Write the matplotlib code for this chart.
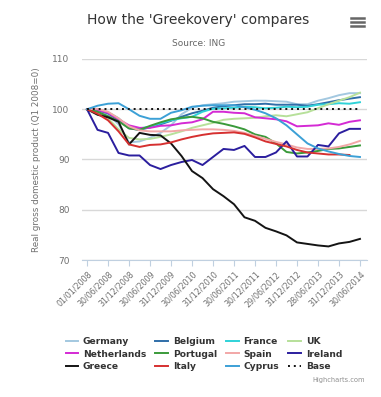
import numpy as np
import matplotlib
matplotlib.use("Agg")
import matplotlib.pyplot as plt
from matplotlib.lines import Line2D

plt.rcParams['font.family'] = ['DejaVu Sans']

tick_labels = ['01/01/2008', '30/06/2008', '31/12/2008', '30/06/2009', '31/12/2009',
               '30/06/2010', '31/12/2010', '30/06/2011', '30/12/2011', '29/06/2012',
               '31/12/2012', '28/06/2013', '31/12/2013', '30/06/2014']

germany = [100, 99.6, 98.9, 97.0, 93.4, 93.6, 94.3, 95.3, 96.8, 99.0, 100.3, 100.8, 101.0, 101.2,
           101.5, 101.6, 101.7, 101.7, 101.6, 101.5, 101.0, 101.0, 101.7, 102.2, 102.8, 103.2, 103.2]
belgium = [100, 99.8, 99.2, 97.8, 96.2, 95.9, 96.4, 97.0, 97.7, 98.5, 99.2, 99.7, 100.3, 100.6,
           100.8, 101.0, 101.0, 101.1, 100.9, 100.9, 100.9, 100.7, 101.0, 101.4, 101.8, 102.1, 102.4]
france = [100, 100.0, 99.4, 98.2, 96.3, 96.2, 96.5, 97.2, 97.8, 98.2, 98.5, 99.5, 100.1, 100.2,
          100.3, 100.5, 100.4, 100.2, 100.3, 100.5, 100.4, 100.5, 100.9, 101.0, 101.2, 101.1, 101.4]
uk = [100, 99.5, 98.2, 96.0, 94.3, 94.0, 94.1, 94.5, 95.0, 95.6, 96.3, 96.8, 97.3, 97.9,
      98.1, 98.2, 98.3, 98.6, 98.8, 98.6, 99.0, 99.4, 100.2, 101.0, 101.7, 102.4, 103.3]
netherlands = [100, 99.9, 99.3, 98.0, 96.8, 96.3, 96.3, 96.7, 96.8, 97.2, 97.4, 98.0, 99.5, 99.5,
               99.3, 99.2, 98.4, 98.2, 98.0, 97.6, 96.6, 96.7, 96.8, 97.2, 96.9, 97.5, 97.8]
portugal = [100, 99.5, 98.6, 97.6, 96.2, 95.9, 96.7, 97.4, 98.0, 98.3, 98.5, 98.2, 97.5, 97.1,
            96.6, 96.0, 95.0, 94.5, 93.2, 91.5, 91.2, 91.4, 91.7, 92.1, 92.2, 92.5, 92.8]
spain = [100, 100.1, 99.5, 98.2, 96.6, 95.8, 95.6, 95.6, 95.6, 95.8, 95.9, 96.0, 96.0, 95.9,
         95.7, 95.3, 94.7, 94.1, 93.5, 93.0, 92.4, 92.1, 92.1, 92.2, 92.5, 93.0, 93.7]
ireland = [100, 95.9, 95.3, 91.3, 90.8, 90.8, 88.9, 88.1, 88.9, 89.5, 89.9, 88.9, 90.5, 92.1,
           91.9, 92.7, 90.5, 90.5, 91.4, 93.6, 90.6, 90.6, 92.9, 92.6, 95.2, 96.1, 96.1]
greece = [100, 98.9, 98.4, 97.5, 93.0, 95.3, 94.9, 94.8, 93.2, 90.7, 87.7, 86.3, 84.1, 82.7,
          81.1, 78.5, 77.8, 76.4, 75.7, 74.9, 73.5, 73.2, 72.9, 72.7, 73.3, 73.6, 74.2]
italy = [100, 99.1, 97.8, 95.6, 93.0, 92.5, 92.9, 93.0, 93.4, 94.0, 94.5, 94.9, 95.2, 95.3,
         95.4, 95.1, 94.4, 93.6, 93.1, 92.6, 91.9, 91.4, 91.2, 91.0, 91.0, 90.9]
cyprus = [100, 100.7, 101.1, 101.2, 100.0, 98.7, 98.1, 98.1, 99.3, 99.8, 100.5, 100.7, 100.8, 100.8,
          100.8, 100.4, 99.9, 99.2, 98.2, 96.8, 95.0, 93.2, 92.2, 91.6, 91.1, 90.7, 90.5]
base = [100] * 27

series = [
    ('Germany', germany, '#a3c8e0', '-'),
    ('Belgium', belgium, '#2f6ea8', '-'),
    ('France', france, '#2fd2d8', '-'),
    ('UK', uk, '#b7e09a', '-'),
    ('Netherlands', netherlands, '#d42ad4', '-'),
    ('Portugal', portugal, '#3a9a3a', '-'),
    ('Spain', spain, '#f2a7a7', '-'),
    ('Ireland', ireland, '#2b1e9e', '-'),
    ('Greece', greece, '#141414', '-'),
    ('Italy', italy, '#d63030', '-'),
    ('Cyprus', cyprus, '#3ca0d6', '-'),
    ('Base', base, '#111111', ':'),
]

fig = plt.figure(figsize=(3.81, 3.97), dpi=100)
ax = fig.add_axes([82 / 381, 1 - 260 / 397, 285 / 381, 201 / 397])

lines = {}
for name, vals, col, ls in series:
    x = np.arange(len(vals))
    if ls == ':':
        ln, = ax.plot(x, vals, color=col, lw=1.4, linestyle=(0, (1, 2)), label=name)
    else:
        ln, = ax.plot(x, vals, color=col, lw=1.4, label=name)
    lines[name] = ln

ax.set_xlim(-0.48, 26.67)
ax.set_ylim(70, 110)
ax.set_yticks([70, 80, 90, 100, 110])
ax.grid(axis='y', color='#d8d8d8', lw=1)
ax.set_axisbelow(True)
for s in ['top', 'right', 'left']:
    ax.spines[s].set_visible(False)
ax.spines['bottom'].set_color('#c0d0e0')
ax.tick_params(axis='y', length=0, pad=9, labelsize=6.5, labelcolor='#707070')
ax.set_xticks(np.arange(0, 27, 2))
ax.set_xticklabels(tick_labels, rotation=45, ha='right', rotation_mode='anchor',
                   fontsize=5.8, color='#707070')
ax.tick_params(axis='x', length=4, color='#c0d0e0', pad=3)
ax.set_ylabel('Real gross domestic product (Q1 2008=0)', fontsize=6.3, color='#707070', labelpad=8)

fig.text(198 / 381, 1 - 20 / 397, "How the 'Greekovery' compares", ha='center', va='center',
         fontsize=10, color='#333333')
fig.text(199 / 381, 1 - 43 / 397, 'Source: ING', ha='center', va='center',
         fontsize=6.5, color='#666666')

for yy in [18, 22, 26]:
    fig.add_artist(Line2D([351 / 381, 364 / 381], [1 - yy / 397, 1 - yy / 397],
                          color='#666666', lw=1.8))

# legend reads row by row in the reference, matplotlib fills columns first
legend_order = ['Germany', 'Netherlands', 'Greece', 'Belgium', 'Portugal', 'Italy',
                'France', 'Spain', 'Cyprus', 'UK', 'Ireland', 'Base']
leg = fig.legend([lines[n] for n in legend_order], legend_order, loc='upper center', ncol=4,
                 bbox_to_anchor=(0.535, 1 - 331 / 397), frameon=False,
                 prop={'size': 6.6, 'weight': 'bold'}, handlelength=1.4,
                 columnspacing=1.0, labelspacing=0.35, handletextpad=0.5,
                 borderpad=0.2)
for t in leg.get_texts():
    t.set_color('#333333')

fig.text(365 / 381, 1 - 380 / 397, 'Highcharts.com', ha='right', va='center',
         fontsize=4.8, color='#909090')

fig.savefig('out.png', dpi=100)
